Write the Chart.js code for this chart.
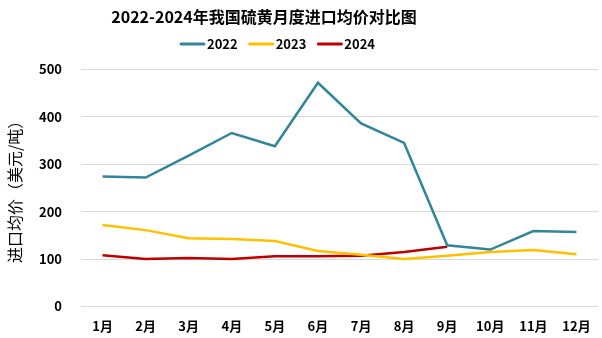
<!DOCTYPE html>
<html>
<head>
<meta charset="utf-8">
<script src="https://cdn.jsdelivr.net/npm/chart.js@4"></script>
<style>
  html, body { margin: 0; padding: 0; background: #fff; }
  #wrap { position: relative; width: 602px; height: 338px; }
</style>
</head>
<body>
<div id="wrap"><canvas id="priceChart" width="602" height="338"></canvas></div>
<script>
const months = ["1月", "2月", "3月", "4月", "5月", "6月", "7月", "8月", "9月", "10月", "11月", "12月"];
const price2022 = [274, 272, 318, 366, 338, 472, 386, 345, 129, 120, 159, 157];
const price2023 = [172, 161, 144, 142, 138, 117, 109, 100, 107, 115, 119, 110];
const price2024 = [108, 100, 102, 100, 106, 106, 107, 115, 126];
const seriesNames = ["2022", "2023", "2024"];
const seriesColors = ["#31859C", "#FFC000", "#C00000"];

const titleText = "2022-2024年我国硫黄月度进口均价对比图";
const cjk = '"Noto Sans CJK SC", "Microsoft YaHei", sans-serif';

// title + legend drawn by hand so they sit where we want them
const headerPlugin = {
  id: "header",
  afterDraw(chart) {
    const ctx = chart.ctx;
    ctx.save();
    ctx.fillStyle = "#000";
    ctx.font = "bold 16px " + cjk;
    ctx.textAlign = "center";
    ctx.textBaseline = "middle";
    ctx.fillText(titleText, 264, 17);

    ctx.font = "bold 13px " + cjk;
    ctx.textAlign = "left";
    let x = 181;
    chart.data.datasets.forEach((ds) => {
      ctx.strokeStyle = ds.borderColor;
      ctx.lineWidth = 3;
      ctx.lineCap = "round";
      ctx.beginPath();
      ctx.moveTo(x, 44);
      ctx.lineTo(x + 23, 44);
      ctx.stroke();
      ctx.fillStyle = "#000";
      ctx.fillText(ds.label, x + 26, 44);
      x += 26 + ctx.measureText(ds.label).width + 12;
    });
    ctx.restore();
  },
};

new Chart(document.getElementById("priceChart"), {
  type: "line",
  data: {
    labels: months,
    datasets: [price2022, price2023, price2024].map((d, i) => ({
      label: seriesNames[i],
      data: d,
      borderColor: seriesColors[i],
      backgroundColor: seriesColors[i],
      borderWidth: 2.5,
      pointRadius: 0,
      tension: 0,
    })),
  },
  options: {
    responsive: false,
    animation: false,
    layout: { padding: { top: 69.5, right: 4, left: 0, bottom: 0 } },
    plugins: {
      legend: { display: false },
      title: { display: false },
      tooltip: { enabled: false },
    },
    scales: {
      x: {
        offset: true,
        grid: { display: false },
        border: { display: false },
        ticks: {
          color: "#000",
          font: { family: cjk, size: 13, weight: "bold" },
          maxRotation: 0,
          padding: 4,
        },
      },
      y: {
        min: 0,
        max: 500,
        ticks: {
          stepSize: 100,
          color: "#000",
          font: { family: cjk, size: 13, weight: "bold" },
          padding: 19,
        },
        grid: { color: "#d9d9d9", lineWidth: 1, drawTicks: false },
        border: { display: false },
        title: {
          display: true,
          text: "进口均价（美元/吨）",
          color: "#000",
          font: { family: cjk, size: 16 },
          padding: { top: 5, bottom: 0 },
        },
        afterFit(scale) { scale.width = 81; },
      },
    },
  },
  plugins: [headerPlugin],
});
</script>
</body>
</html>
